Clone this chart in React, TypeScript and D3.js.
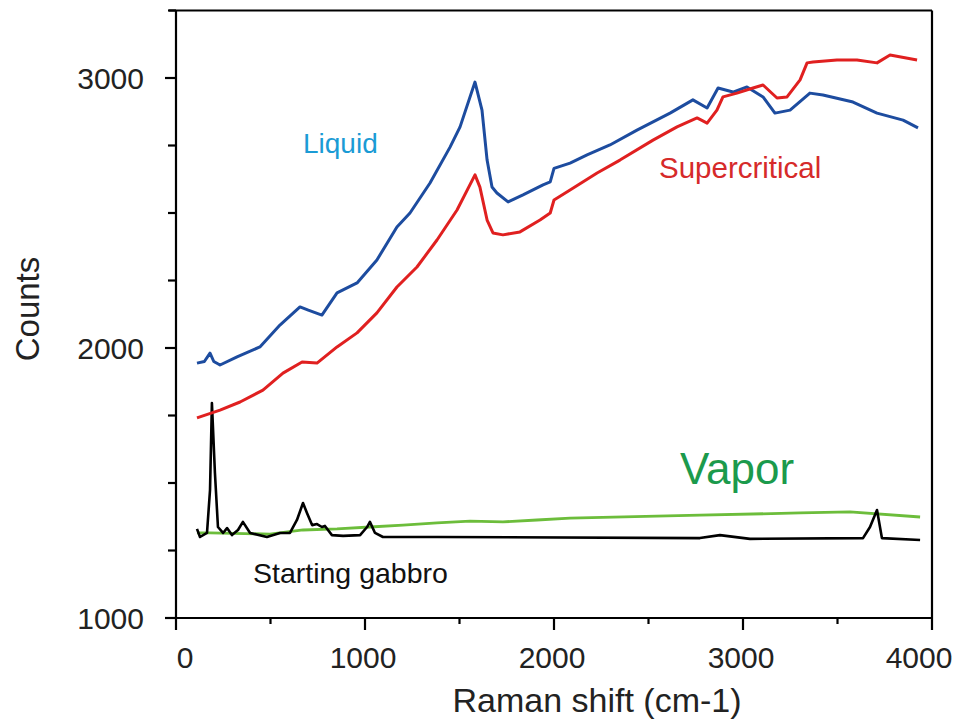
import React from "react";
import * as d3 from "d3";

// Raman shift (cm-1), counts
const liquid: [number, number][] = [
  [111, 1944], [150, 1950], [180, 1981], [200, 1950], [233, 1937], [323, 1967], [444, 2004], [550, 2085],
  [656, 2152], [700, 2140], [772, 2122], [852, 2204], [958, 2241], [1063, 2326], [1169, 2448],
  [1238, 2500], [1344, 2611], [1450, 2744], [1503, 2819], [1582, 2985], [1619, 2881],
  [1646, 2696], [1672, 2596], [1698, 2574], [1757, 2541], [1836, 2567], [1942, 2604],
  [1980, 2615], [2000, 2665], [2085, 2685], [2175, 2715], [2296, 2752], [2439, 2807], [2614, 2870],
  [2735, 2919], [2810, 2889], [2868, 2963], [2947, 2948], [3021, 2967], [3106, 2930],
  [3169, 2870], [3249, 2881], [3354, 2944], [3423, 2937], [3582, 2911], [3709, 2870],
  [3847, 2844], [3926, 2815],
];

const supercritical: [number, number][] = [
  [111, 1741], [233, 1770], [339, 1800], [460, 1844], [566, 1907], [667, 1948], [746, 1944],
  [852, 2004], [958, 2056], [1063, 2130], [1169, 2226], [1275, 2300], [1381, 2400],
  [1487, 2511], [1582, 2641], [1608, 2596], [1646, 2474], [1677, 2426], [1730, 2419],
  [1820, 2430], [1926, 2474], [1980, 2500], [2000, 2548], [2085, 2585], [2228, 2648], [2349, 2696],
  [2524, 2770], [2651, 2819], [2757, 2852], [2810, 2833], [2862, 2881], [2894, 2930],
  [2968, 2944], [3053, 2963], [3106, 2974], [3180, 2926], [3233, 2930], [3302, 2993],
  [3339, 3056], [3370, 3059], [3497, 3067], [3603, 3067], [3709, 3056], [3778, 3085],
  [3921, 3067],
];

const vapor: [number, number][] = [
  [111, 1315], [180, 1315], [497, 1311], [672, 1326], [852, 1330], [1026, 1337], [1201, 1344],
  [1381, 1352], [1556, 1359], [1730, 1356], [1910, 1363], [2085, 1370], [2772, 1381],
  [3302, 1389], [3566, 1393], [3937, 1374],
];

const gabbro: [number, number][] = [
  [111, 1330], [127, 1300], [164, 1315], [180, 1474], [190, 1796], [206, 1537], [222, 1337],
  [249, 1315], [270, 1333], [296, 1307], [328, 1326], [354, 1356], [392, 1315], [481, 1300],
  [550, 1315], [603, 1315], [640, 1363], [672, 1426], [693, 1389], [720, 1344], [746, 1348],
  [772, 1337], [788, 1341], [825, 1307], [884, 1304], [974, 1307], [1011, 1337], [1026, 1356],
  [1053, 1315], [1095, 1300], [1381, 1300], [2772, 1296], [2878, 1307], [3037, 1293],
  [3635, 1296], [3672, 1337], [3709, 1400], [3735, 1296], [3937, 1289],
];

const xTicks = [0, 500, 1000, 1500, 2000, 2500, 3000, 3500, 4000];
const xLabels = [0, 1000, 2000, 3000, 4000];
const yTicks = [1000, 1250, 1500, 1750, 2000, 2250, 2500, 2750, 3000, 3250];
const yLabels = [1000, 2000, 3000];

const W = 957;
const H = 720;
const L = 176, R = 932, T = 10.5, B = 618;
const FONT = "'Liberation Sans', Arial, sans-serif";

export default function App() {
  const x = d3.scaleLinear().domain([0, 4000]).range([L, R]);
  const y = d3.scaleLinear().domain([1000, 3250]).range([B, T]);
  const line = d3.line<[number, number]>().x((d) => x(d[0])).y((d) => y(d[1]));

  return (
    <svg width={W} height={H} style={{ position: "absolute", left: 0, top: 0, background: "#fff" }} fontFamily={FONT}>
      <rect width={W} height={H} fill="#fff" />
      {/* series */}
      <path d={line(vapor) || ""} fill="none" stroke="#6cbd3b" strokeWidth={2.8} />
      <path d={line(gabbro) || ""} fill="none" stroke="#000" strokeWidth={2.6} strokeLinejoin="round" />
      <path d={line(liquid) || ""} fill="none" stroke="#1d4c9f" strokeWidth={3} strokeLinejoin="round" />
      <path d={line(supercritical) || ""} fill="none" stroke="#e02020" strokeWidth={3} strokeLinejoin="round" />

      {/* frame */}
      <g stroke="#000" strokeWidth={2.2} fill="none">
        <line x1={L} x2={L} y1={T} y2={B} />
        <line x1={L - 9} x2={R} y1={B} y2={B} />
        <line x1={L - 7} x2={R} y1={T} y2={T} />
        <line x1={R} x2={R} y1={T} y2={B} />
        {xTicks.map((t) => (
          <line key={"xt" + t} x1={x(t)} x2={x(t)} y1={B} y2={B + (xLabels.includes(t) ? 12 : 6)} />
        ))}
        {yTicks.map((t) => (
          <line key={"yt" + t} x1={L} x2={L - (yLabels.includes(t) ? 11 : 8)} y1={y(t)} y2={y(t)} />
        ))}
      </g>
      {xLabels.map((t, i) => (
        <text key={"xl" + t} x={x(t) + (i === 0 ? 9 : i === xLabels.length - 1 ? -13 : -2)} y={668}
          textAnchor="middle" fontSize={30} fill="#222">{t}</text>
      ))}
      {yLabels.map((t) => (
        <text key={"yl" + t} x={144} y={y(t)} dy="0.36em" textAnchor="end" fontSize={30} fill="#222">{t}</text>
      ))}
      <text x={597} y={712} textAnchor="middle" fontSize={34} fill="#222">Raman shift (cm-1)</text>
      <text transform="translate(39,309) rotate(-90)" textAnchor="middle" fontSize={33} fill="#222">Counts</text>

      <text x={303} y={153} fontSize={28} fill="#1b9bd5">Liquid</text>
      <text x={659} y={178} fontSize={29.5} fill="#d62a2a">Supercritical</text>
      <text x={680} y={484} fontSize={44} fill="#1b9a4c">Vapor</text>
      <text x={253} y={583} fontSize={28.5} fill="#111">Starting gabbro</text>
    </svg>
  );
}
